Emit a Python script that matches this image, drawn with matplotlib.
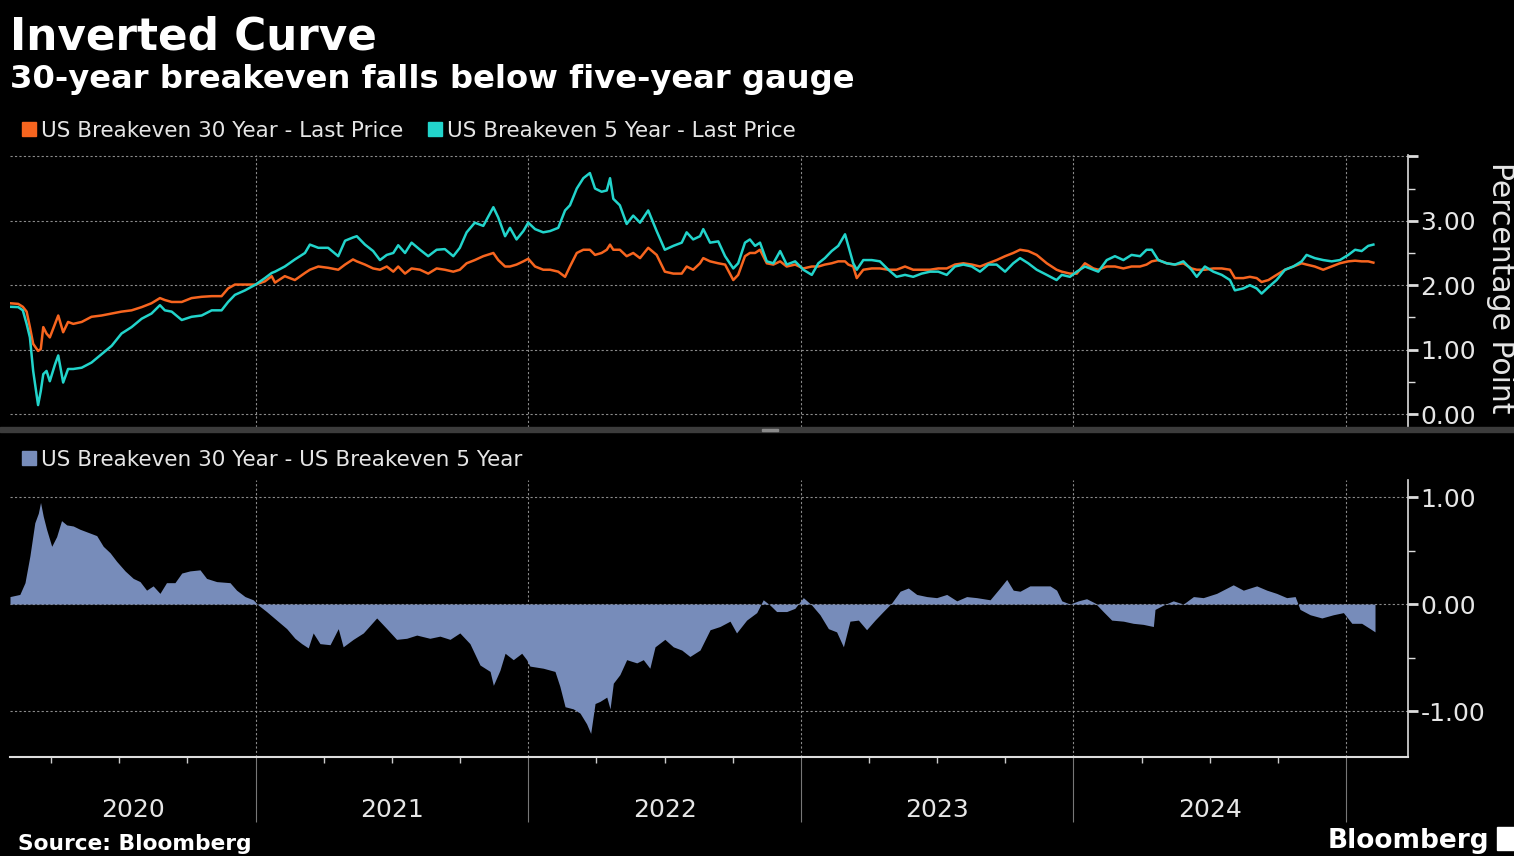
import matplotlib.pyplot as plt
from matplotlib import transforms
from matplotlib.patches import Rectangle

# time axis in decimal years
t_top = [2020.099, 2020.129, 2020.146, 2020.160, 2020.172, 2020.184, 2020.202, 2020.212, 2020.221, 2020.233,
         2020.245, 2020.264, 2020.276, 2020.294, 2020.312, 2020.331, 2020.362, 2020.398, 2020.435, 2020.472,
         2020.508, 2020.545, 2020.582, 2020.618, 2020.649, 2020.667, 2020.692, 2020.729, 2020.765, 2020.802,
         2020.839, 2020.875, 2020.899, 2020.924, 2020.961, 2021.000, 2021.034, 2021.059, 2021.071, 2021.107,
         2021.144, 2021.181, 2021.199, 2021.230, 2021.266, 2021.303, 2021.328, 2021.357, 2021.371, 2021.401,
         2021.431, 2021.456, 2021.481, 2021.505, 2021.523, 2021.548, 2021.572, 2021.603, 2021.633, 2021.664,
         2021.694, 2021.725, 2021.749, 2021.774, 2021.804, 2021.835, 2021.872, 2021.890, 2021.915, 2021.933,
         2021.957, 2021.982, 2022.000, 2022.025, 2022.055, 2022.080, 2022.110, 2022.135, 2022.153, 2022.178,
         2022.202, 2022.226, 2022.245, 2022.269, 2022.288, 2022.300, 2022.312, 2022.336, 2022.361, 2022.385,
         2022.410, 2022.440, 2022.471, 2022.501, 2022.532, 2022.563, 2022.581, 2022.605, 2022.630, 2022.642,
         2022.667, 2022.697, 2022.722, 2022.752, 2022.770, 2022.795, 2022.813, 2022.832, 2022.850, 2022.875,
         2022.899, 2022.924, 2022.948, 2022.979, 2023.009, 2023.040, 2023.064, 2023.088, 2023.113, 2023.137,
         2023.162, 2023.174, 2023.192, 2023.205, 2023.229, 2023.260, 2023.290, 2023.321, 2023.351, 2023.382,
         2023.412, 2023.443, 2023.474, 2023.504, 2023.535, 2023.565, 2023.596, 2023.627, 2023.657, 2023.688,
         2023.718, 2023.749, 2023.779, 2023.804, 2023.834, 2023.865, 2023.902, 2023.938, 2023.957, 2023.987,
         2024.012, 2024.042, 2024.073, 2024.091, 2024.122, 2024.152, 2024.183, 2024.213, 2024.244, 2024.268,
         2024.287, 2024.311, 2024.342, 2024.372, 2024.403, 2024.433, 2024.452, 2024.482, 2024.513, 2024.544,
         2024.574, 2024.592, 2024.623, 2024.647, 2024.672, 2024.690, 2024.715, 2024.745, 2024.776, 2024.806,
         2024.837, 2024.855, 2024.885, 2024.916, 2024.947, 2024.977, 2025.008, 2025.033, 2025.057, 2025.081,
         2025.100]

be30 = [1.72, 1.71, 1.665, 1.59, 1.35, 1.09, 0.98, 1.01, 1.35, 1.25,
        1.19, 1.40, 1.53, 1.27, 1.43, 1.40, 1.43, 1.51, 1.53, 1.56,
        1.59, 1.61, 1.66, 1.72, 1.80, 1.77, 1.74, 1.74, 1.80, 1.82,
        1.83, 1.83, 1.95, 2.01, 2.01, 2.01, 2.06, 2.14, 2.04, 2.14,
        2.08, 2.19, 2.24, 2.29, 2.27, 2.24, 2.32, 2.40, 2.37, 2.32,
        2.26, 2.24, 2.29, 2.21, 2.29, 2.18, 2.26, 2.24, 2.18, 2.26,
        2.24, 2.21, 2.24, 2.34, 2.39, 2.45, 2.50, 2.39, 2.29, 2.29,
        2.32, 2.37, 2.41, 2.29, 2.24, 2.24, 2.21, 2.13, 2.29, 2.50,
        2.55, 2.55, 2.47, 2.50, 2.55, 2.63, 2.55, 2.55, 2.45, 2.50,
        2.42, 2.58, 2.47, 2.21, 2.18, 2.18, 2.29, 2.24, 2.34, 2.42,
        2.37, 2.34, 2.32, 2.08, 2.16, 2.45, 2.50, 2.50, 2.55, 2.34,
        2.32, 2.37, 2.29, 2.32, 2.26, 2.29, 2.29, 2.32, 2.34, 2.37,
        2.37, 2.32, 2.29, 2.11, 2.24, 2.26, 2.26, 2.24, 2.24, 2.29,
        2.24, 2.24, 2.24, 2.26, 2.26, 2.32, 2.34, 2.32, 2.29, 2.34,
        2.39, 2.45, 2.50, 2.55, 2.53, 2.47, 2.34, 2.24, 2.21, 2.18,
        2.18, 2.34, 2.26, 2.24, 2.29, 2.29, 2.26, 2.29, 2.29, 2.32,
        2.37, 2.39, 2.34, 2.32, 2.34, 2.26, 2.24, 2.24, 2.26, 2.26,
        2.24, 2.11, 2.11, 2.13, 2.11, 2.05, 2.08, 2.16, 2.24, 2.29,
        2.34, 2.32, 2.29, 2.24, 2.29, 2.34, 2.37, 2.38, 2.37, 2.37,
        2.35]

be5 = [1.665, 1.66, 1.61, 1.40, 1.19, 0.67, 0.14, 0.36, 0.62, 0.67,
       0.51, 0.77, 0.91, 0.49, 0.70, 0.70, 0.72, 0.80, 0.93, 1.06,
       1.25, 1.35, 1.48, 1.56, 1.69, 1.61, 1.59, 1.46, 1.51, 1.53,
       1.61, 1.61, 1.74, 1.85, 1.92, 2.01, 2.11, 2.19, 2.21, 2.29,
       2.40, 2.50, 2.63, 2.58, 2.58, 2.45, 2.69, 2.74, 2.76, 2.63,
       2.53, 2.39, 2.47, 2.50, 2.62, 2.50, 2.66, 2.55, 2.45, 2.55,
       2.56, 2.45, 2.58, 2.82, 2.97, 2.92, 3.21, 3.05, 2.76, 2.89,
       2.71, 2.84, 2.97, 2.87, 2.82, 2.84, 2.89, 3.16, 3.24, 3.50,
       3.66, 3.74, 3.50, 3.45, 3.47, 3.66, 3.34, 3.24, 2.95, 3.08,
       2.97, 3.16, 2.84, 2.55, 2.61, 2.66, 2.82, 2.71, 2.76, 2.87,
       2.66, 2.68, 2.45, 2.26, 2.34, 2.66, 2.71, 2.61, 2.66, 2.37,
       2.34, 2.53, 2.32, 2.37, 2.24, 2.16, 2.34, 2.42, 2.53, 2.61,
       2.79, 2.61, 2.34, 2.24, 2.39, 2.39, 2.37, 2.24, 2.13, 2.16,
       2.13, 2.18, 2.21, 2.21, 2.16, 2.29, 2.32, 2.29, 2.21, 2.32,
       2.32, 2.21, 2.34, 2.42, 2.34, 2.24, 2.16, 2.08, 2.16, 2.13,
       2.21, 2.29, 2.24, 2.21, 2.39, 2.45, 2.39, 2.47, 2.45, 2.55,
       2.55, 2.39, 2.34, 2.32, 2.37, 2.24, 2.13, 2.29, 2.21, 2.16,
       2.08, 1.92, 1.95, 2.00, 1.95, 1.87, 1.97, 2.08, 2.24, 2.29,
       2.37, 2.47, 2.42, 2.39, 2.37, 2.39, 2.47, 2.55, 2.53, 2.61,
       2.63]

t_spread = [2020.099, 2020.135, 2020.154, 2020.172, 2020.190, 2020.203, 2020.211, 2020.221, 2020.233, 2020.252,
            2020.270, 2020.288, 2020.307, 2020.331, 2020.355, 2020.386, 2020.417, 2020.441, 2020.466, 2020.490,
            2020.521, 2020.551, 2020.576, 2020.600, 2020.624, 2020.649, 2020.673, 2020.704, 2020.729, 2020.759,
            2020.796, 2020.820, 2020.857, 2020.906, 2020.930, 2020.961, 2020.991, 2021.010, 2021.040, 2021.077,
            2021.114, 2021.144, 2021.169, 2021.193, 2021.211, 2021.236, 2021.273, 2021.303, 2021.321, 2021.358,
            2021.395, 2021.444, 2021.481, 2021.517, 2021.554, 2021.591, 2021.639, 2021.676, 2021.713, 2021.749,
            2021.786, 2021.823, 2021.860, 2021.872, 2021.896, 2021.915, 2021.945, 2021.976, 2021.994, 2022.006,
            2022.055, 2022.098, 2022.116, 2022.135, 2022.165, 2022.190, 2022.214, 2022.229, 2022.245, 2022.263,
            2022.288, 2022.300, 2022.312, 2022.336, 2022.361, 2022.398, 2022.422, 2022.446, 2022.465, 2022.501,
            2022.532, 2022.563, 2022.593, 2022.630, 2022.667, 2022.703, 2022.740, 2022.764, 2022.801, 2022.838,
            2022.862, 2022.887, 2022.911, 2022.948, 2022.978, 2023.009, 2023.040, 2023.070, 2023.101, 2023.131,
            2023.156, 2023.180, 2023.211, 2023.241, 2023.272, 2023.302, 2023.333, 2023.364, 2023.394, 2023.425,
            2023.462, 2023.498, 2023.535, 2023.572, 2023.608, 2023.645, 2023.694, 2023.730, 2023.755, 2023.779,
            2023.804, 2023.840, 2023.877, 2023.914, 2023.938, 2023.957, 2023.987, 2024.018, 2024.048, 2024.079,
            2024.109, 2024.140, 2024.183, 2024.219, 2024.256, 2024.293, 2024.299, 2024.329, 2024.366, 2024.403,
            2024.440, 2024.476, 2024.525, 2024.586, 2024.623, 2024.672, 2024.709, 2024.745, 2024.782, 2024.813,
            2024.831, 2024.868, 2024.911, 2024.953, 2024.990, 2025.021, 2025.057, 2025.088, 2025.106]

spread = [0.07, 0.09, 0.20, 0.45, 0.76, 0.85, 0.95, 0.82, 0.70, 0.54,
          0.63, 0.78, 0.74, 0.73, 0.70, 0.67, 0.64, 0.54, 0.48, 0.40,
          0.31, 0.24, 0.21, 0.13, 0.17, 0.10, 0.20, 0.20, 0.29, 0.31,
          0.32, 0.24, 0.21, 0.20, 0.13, 0.07, 0.04, -0.01, -0.07, -0.15,
          -0.23, -0.32, -0.37, -0.41, -0.27, -0.37, -0.38, -0.23, -0.40, -0.33,
          -0.27, -0.13, -0.23, -0.33, -0.32, -0.29, -0.32, -0.30, -0.33, -0.27,
          -0.37, -0.57, -0.63, -0.76, -0.62, -0.46, -0.52, -0.46, -0.52, -0.58,
          -0.60, -0.63, -0.77, -0.96, -0.98, -1.02, -1.12, -1.21, -0.93, -0.91,
          -0.87, -0.98, -0.74, -0.66, -0.52, -0.55, -0.52, -0.60, -0.40, -0.33,
          -0.40, -0.43, -0.49, -0.43, -0.24, -0.21, -0.16, -0.27, -0.15, -0.08,
          0.04, -0.01, -0.07, -0.07, -0.04, 0.06, -0.01, -0.10, -0.23, -0.26,
          -0.40, -0.16, -0.15, -0.24, -0.15, -0.07, 0.01, 0.12, 0.15, 0.09,
          0.07, 0.06, 0.09, 0.03, 0.07, 0.06, 0.04, 0.15, 0.23, 0.13,
          0.12, 0.17, 0.17, 0.17, 0.13, 0.03, 0.00, 0.03, 0.05, 0.01,
          -0.07, -0.15, -0.16, -0.18, -0.19, -0.21, -0.05, -0.01, 0.03, 0.00,
          0.07, 0.06, 0.10, 0.18, 0.13, 0.17, 0.13, 0.10, 0.06, 0.07,
          -0.05, -0.10, -0.13, -0.10, -0.08, -0.18, -0.18, -0.23, -0.26]

years = [2020, 2021, 2022, 2023, 2024]
x_start, x_end = 2020.099, 2025.227

ORANGE = '#f7651f'
CYAN = '#22d4cb'
SLATE = '#778cba'
GRID = '#8a8a8a'
TXT = '#e6e6e6'
FONT = 'DejaVu Sans'

W, H = 1514, 856
fig = plt.figure(figsize=(W / 100, H / 100), dpi=100, facecolor='black')
ax1 = fig.add_axes([10 / W, 1 - 427 / H, 1398 / W, 272 / H], facecolor='black')
ax2 = fig.add_axes([10 / W, 1 - 757 / H, 1398 / W, 277 / H], facecolor='black')

# 上面板: 两条盈亏平衡通胀率
ax1.plot(t_top, be30, color=ORANGE, lw=1.8, zorder=3)
ax1.plot(t_top, be5, color=CYAN, lw=1.8, zorder=3)
ax1.set_ylim(-0.2, 4.02)
ax1.set_yticks([0, 1, 2, 3, 4])
ax1.set_yticklabels(['0.00', '1.00', '2.00', '3.00', ''])
ax1.set_yticks([0.5, 1.5, 2.5, 3.5], minor=True)
for v in [0, 1, 2, 3, 4]:
    ax1.axhline(v, color=GRID, lw=0.8, ls=(0, (2, 2)), zorder=1)

# 下面板: 利差
ax2.fill_between(t_spread, spread, 0, color=SLATE, lw=0, zorder=3)
ax2.set_ylim(-1.43, 1.16)
ax2.set_yticks([-1, 0, 1])
ax2.set_yticklabels(['-1.00', '0.00', '1.00'])
ax2.set_yticks([-0.5, 0.5], minor=True)
for v in [-1, 0, 1]:
    ax2.axhline(v, color=GRID, lw=0.8, ls=(0, (2, 2)), zorder=1)

for ax in (ax1, ax2):
    ax.set_xlim(x_start, x_end)
    for y in years[1:] + [2025]:
        ax.axvline(y, color=GRID, lw=0.8, ls=(0, (2, 2)), zorder=1)
    for s in ['left', 'top', 'bottom']:
        ax.spines[s].set_visible(False)
    ax.spines['right'].set_color('#dddddd')
    ax.spines['right'].set_linewidth(1.2)
    ax.yaxis.tick_right()
    ax.tick_params(axis='y', which='major', length=7, width=2, color='#dddddd',
                   labelcolor=TXT, labelsize=18, pad=2)
    ax.tick_params(axis='y', which='minor', length=5, width=1, color='#dddddd')

ax1.tick_params(axis='x', which='both', bottom=False, labelbottom=False)

# 底部时间轴
ax2.spines['bottom'].set_visible(True)
ax2.spines['bottom'].set_color('#dddddd')
ax2.spines['bottom'].set_linewidth(1.5)
ax2.set_xticks(years[1:] + [2025])
ax2.set_xticks([y + q for y in years + [2025] for q in (0.25, 0.5, 0.75)
                if x_start < y + q < x_end], minor=True)
ax2.tick_params(axis='x', which='major', length=47, width=0.8, color='#777777', labelbottom=False)
ax2.tick_params(axis='x', which='minor', length=4, width=1, color='#cccccc')

trans = transforms.blended_transform_factory(ax2.transData, fig.transFigure)
for y in years:
    left = max(y, x_start)
    ax2.text((left + y + 1) / 2, 1 - 817 / H, str(y), transform=trans, ha='center',
             va='baseline', color=TXT, fontsize=18, family=FONT)

# 标题与图例
fig.text(10 / W, 1 - 49 / H, 'Inverted Curve', color='white', fontsize=31.5,
         fontweight='bold', family=FONT)
fig.text(10 / W, 1 - 88 / H, '30-year breakeven falls below five-year gauge',
         color='white', fontsize=23.2, fontweight='bold', family=FONT)


def legend_item(x, y, color, label):
    fig.patches.append(Rectangle((x / W, 1 - (y + 7) / H), 14 / W, 14 / H,
                                 transform=fig.transFigure, color=color))
    fig.text((x + 19) / W, 1 - (y + 8) / H, label, color=TXT, fontsize=15.5,
             family=FONT, va='baseline')


legend_item(22, 129, ORANGE, 'US Breakeven 30 Year - Last Price')
legend_item(428, 129, CYAN, 'US Breakeven 5 Year - Last Price')
legend_item(22, 458, SLATE, 'US Breakeven 30 Year - US Breakeven 5 Year')

fig.text(1486 / W, 1 - 162 / H, 'Percentage Point', rotation=270, color=TXT,
         fontsize=21.5, family=FONT, ha='left', va='top')

# 面板分隔条
fig.patches.append(Rectangle((0, 1 - 432 / H), 1, 5 / H, transform=fig.transFigure,
                             color='#3c3c3c'))
fig.patches.append(Rectangle((762 / W, 1 - 431 / H), 16 / W, 2 / H,
                             transform=fig.transFigure, color='#8a8a8a'))

fig.text(18 / W, 1 - 850 / H, 'Source: Bloomberg', color='white', fontsize=15.7,
         fontweight='bold', family=FONT)
fig.text(1489 / W, 1 - 848 / H, 'Bloomberg', color='white', fontsize=19,
         fontweight='bold', family=FONT, ha='right')
fig.patches.append(Rectangle((1497 / W, 1 - 850 / H), 20 / W, 23 / H,
                             transform=fig.transFigure, color='white'))

fig.savefig('out.png', dpi=100, facecolor='black')
